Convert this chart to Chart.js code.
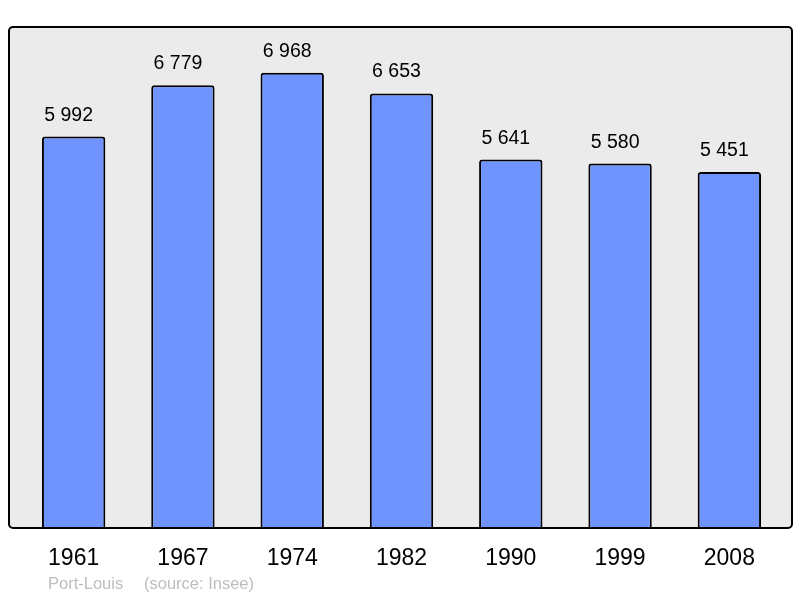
<!DOCTYPE html>
<html>
<head>
<meta charset="utf-8">
<script src="https://cdn.jsdelivr.net/npm/chart.js@4/dist/chart.umd.min.js"></script>
<style>
  body { margin: 0; background: #fff; }
  #wrap { width: 800px; height: 598px; }
</style>
</head>
<body>
<div id="wrap"><canvas id="pop"></canvas></div>
<script>
const annees = ['1961', '1967', '1974', '1982', '1990', '1999', '2008'];
const population = [5992, 6779, 6968, 6653, 5641, 5580, 5451];
const commune = 'Port-Louis';
const source = '(source: Insee)';

const police = '"Liberation Sans", Arial, sans-serif';

// format 5992 -> "5 992"
function fmt(v) {
  return String(v).replace(/\B(?=(\d{3})+(?!\d))/g, ' ');
}

// fond gris + cadre arrondi
const cadre = {
  id: 'cadre',
  beforeDraw(chart) {
    const ctx = chart.ctx;
    ctx.save();
    ctx.fillStyle = '#ebebeb';
    ctx.beginPath();
    ctx.roundRect(9, 27, 783, 501, 4);
    ctx.fill();
    ctx.restore();
  },
  afterDatasetsDraw(chart) {
    const ctx = chart.ctx;
    ctx.save();
    // valeurs au-dessus des barres
    const meta = chart.getDatasetMeta(0);
    ctx.fillStyle = '#000';
    ctx.font = '19.5px ' + police;
    ctx.textAlign = 'center';
    ctx.textBaseline = 'alphabetic';
    meta.data.forEach((bar, i) => {
      ctx.fillText(fmt(population[i]), bar.x - 5, bar.y - 16);
    });
    // cadre
    ctx.strokeStyle = '#000';
    ctx.lineWidth = 2;
    ctx.beginPath();
    ctx.roundRect(9, 27, 783, 501, 4);
    ctx.stroke();
    // pied
    ctx.fillStyle = '#bdbdbd';
    ctx.font = '16.5px ' + police;
    ctx.textAlign = 'left';
    ctx.textBaseline = 'middle';
    ctx.fillText(commune, 48, 584);
    ctx.fillText(source, 144, 584);
    ctx.restore();
  }
};

new Chart(document.getElementById('pop'), {
  type: 'bar',
  data: {
    labels: annees,
    datasets: [{
      data: population,
      backgroundColor: '#7094ff',
      borderColor: '#000',
      borderWidth: 2,
      borderSkipped: 'bottom',
      borderRadius: 3,
      categoryPercentage: 1,
      barPercentage: 0.58
    }]
  },
  options: {
    responsive: true,
    maintainAspectRatio: false,
    animation: false,
    layout: { padding: { left: 19, right: 16, top: 27, bottom: 30 } },
    plugins: { legend: { display: false }, tooltip: { enabled: false } },
    scales: {
      x: {
        grid: { display: false, drawTicks: false },
        border: { display: false },
        ticks: { color: '#000', font: { family: police, size: 23 }, padding: 17, maxRotation: 0 },
        afterFit: (s) => { s.height = 40; }
      },
      y: {
        display: false,
        min: 0,
        max: 7670
      }
    }
  },
  plugins: [cadre]
});
</script>
</body>
</html>
